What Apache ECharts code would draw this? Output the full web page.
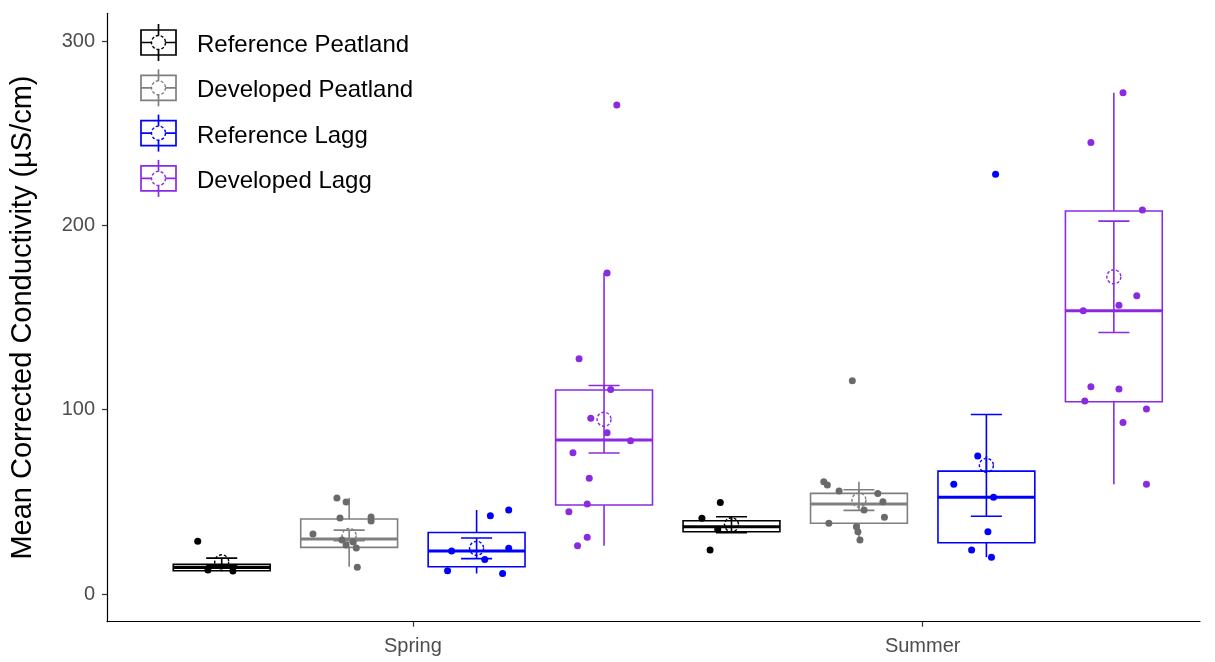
<!DOCTYPE html>
<html>
<head>
<meta charset="utf-8">
<title>Mean Corrected Conductivity</title>
<script src="https://cdn.jsdelivr.net/npm/echarts@6/dist/echarts.min.js"></script>
<style>
  html, body { margin: 0; padding: 0; background: #ffffff; }
  #chart { width: 1215px; height: 662px; }
</style>
</head>
<body>
<div id="chart"></div>
<script>
// ---- data -------------------------------------------------------------
const seasons = ['Spring', 'Summer'];
const groups = ['Reference Peatland', 'Developed Peatland', 'Reference Lagg', 'Developed Lagg'];
const yTicks = [0, 100, 200, 300];

// Box statistics per season: [lower whisker, Q1, median, Q3, upper whisker]
const boxRefPeatland = [[12.3, 12.6, 14.4, 16.1, 16.5], [33.5, 33.8, 36.5, 39.8, 41.1]];
const boxDevPeatland = [[14.8, 25.3, 29.8, 40.7, 52.1], [29.3, 38.4, 48.8, 54.6, 60.9]];
const boxRefLagg     = [[11.2, 14.8, 23.3, 33.4, 45.6], [19.9, 27.8, 52.5, 66.7, 74.9]];
const boxDevLagg     = [[26.2, 48.3, 83.5, 110.7, 174.1], [59.5, 104.3, 153.7, 207.8, 271.9]];

// Group means and standard errors per season
const meanRefPeatland = [17.5, 37.6];
const seRefPeatland   = [2.0, 4.3];
const meanDevPeatland = [31.8, 51.0];
const seDevPeatland   = [2.9, 5.6];
const meanRefLagg     = [24.8, 69.8];
const seRefLagg       = [5.6, 27.6];
const meanDevLagg     = [94.8, 172.1];
const seDevLagg       = [18.3, 30.2];

// Site observations: [jitter (share of a category), conductivity]
const obsRefPeatlandSpring = [[-0.047, 28.7], [-0.027, 13.0], [0.022, 12.5]];
const obsRefPeatlandSummer = [[-0.022, 49.7], [-0.042, 23.9], [-0.058, 41.1], [-0.027, 35.1]];
const obsDevPeatlandSpring = [[-0.024, 52.1], [-0.006, 49.9], [-0.018, 41.2], [0.043, 41.8], [0.043, 39.6],
  [-0.071, 32.6], [-0.014, 29.3], [0.008, 28.2], [-0.006, 26.6], [0.014, 25.0], [0.016, 14.6]];
const obsDevPeatlandSummer = [[-0.013, 115.7], [-0.069, 60.9], [-0.062, 59.1], [-0.039, 55.9], [0.037, 54.6],
  [0.047, 50.1], [0.010, 45.6], [0.050, 41.6], [-0.059, 38.4], [-0.005, 36.5], [-0.002, 33.8], [0.002, 29.3]];
const obsRefLaggSpring = [[0.027, 42.5], [0.063, 45.6], [-0.049, 23.3], [0.063, 24.8], [0.016, 18.8],
  [-0.057, 12.7], [0.051, 11.2]];
const obsRefLaggSummer = [[0.018, 227.7], [-0.017, 74.9], [-0.064, 59.5], [0.014, 52.5], [0.003, 33.8],
  [-0.029, 23.9], [0.010, 19.9]];
const obsDevLaggSpring = [[0.025, 265.3], [0.006, 174.1], [-0.049, 127.6], [0.013, 111.0], [-0.026, 95.3],
  [0.006, 87.5], [0.052, 83.2], [-0.061, 76.7], [-0.029, 62.8], [-0.033, 48.8], [-0.069, 44.7],
  [-0.033, 30.8], [-0.052, 26.2]];
const obsDevLaggSummer = [[0.018, 271.9], [-0.045, 244.9], [0.056, 208.3], [0.045, 161.8], [0.010, 156.6],
  [-0.060, 153.7], [-0.045, 112.5], [0.010, 111.2], [-0.057, 104.7], [0.064, 100.4], [0.018, 93.1],
  [0.064, 59.5]];

// ---- styling ----------------------------------------------------------
const lineColors  = ['#000000', '#7f7f7f', '#0000ff', '#8a2be2'];
const pointColors = ['#000000', '#6a6a6a', '#0000ff', '#8a2be2'];
const FONT = '"Liberation Sans", Arial, sans-serif';
const DODGE = [-0.375, -0.125, 0.125, 0.375];  // group offsets inside a season
const BOX_W = 0.19;                            // box width, in category units
const CAP_W = 0.061;                           // error-bar cap width
const MEAN_R = 7;                              // mean marker radius, px
const CIRCLE_DASH = [3, 2];

const boxes = [boxRefPeatland, boxDevPeatland, boxRefLagg, boxDevLagg];
const means = [meanRefPeatland, meanDevPeatland, meanRefLagg, meanDevLagg];
const ses   = [seRefPeatland, seDevPeatland, seRefLagg, seDevLagg];
const obs   = [
  [obsRefPeatlandSpring, obsRefPeatlandSummer],
  [obsDevPeatlandSpring, obsDevPeatlandSummer],
  [obsRefLaggSpring, obsRefLaggSummer],
  [obsDevLaggSpring, obsDevLaggSummer]
];

// season s sits at x = s + 1 on the value axis
function boxRows(g) {
  return seasons.map((_, s) => [s + 1 + DODGE[g]].concat(boxes[g][s], [means[g][s], ses[g][s]]));
}
function pointRows(g) {
  const rows = [];
  seasons.forEach((_, s) => {
    obs[g][s].forEach(([j, v]) => rows.push([s + 1 + DODGE[g] + j, v]));
  });
  return rows;
}

function makeBoxRenderer(color) {
  return function (params, api) {
    const x = api.value(0);
    const lo = api.value(1), q1 = api.value(2), med = api.value(3), q3 = api.value(4), hi = api.value(5);
    const mean = api.value(6), se = api.value(7);
    const px = api.coord([x, 0])[0];
    const y = (v) => api.coord([x, v])[1];
    const halfBox = api.size([BOX_W, 0])[0] / 2;
    const halfCap = api.size([CAP_W, 0])[0] / 2;
    const thin = { stroke: color, lineWidth: 1.6, fill: null };
    return {
      type: 'group',
      children: [
        { type: 'line', shape: { x1: px, y1: y(hi), x2: px, y2: y(q3) }, style: thin },
        { type: 'line', shape: { x1: px, y1: y(q1), x2: px, y2: y(lo) }, style: thin },
        { type: 'rect', shape: { x: px - halfBox, y: y(q3), width: 2 * halfBox, height: y(q1) - y(q3) },
          style: { stroke: color, lineWidth: 1.6, fill: '#ffffff' } },
        { type: 'line', shape: { x1: px - halfBox, y1: y(med), x2: px + halfBox, y2: y(med) },
          style: { stroke: color, lineWidth: 3 } },
        { type: 'line', shape: { x1: px, y1: y(mean + se), x2: px, y2: y(mean - se) }, style: thin },
        { type: 'line', shape: { x1: px - halfCap, y1: y(mean + se), x2: px + halfCap, y2: y(mean + se) }, style: thin },
        { type: 'line', shape: { x1: px - halfCap, y1: y(mean - se), x2: px + halfCap, y2: y(mean - se) }, style: thin },
        { type: 'circle', shape: { cx: px, cy: y(mean), r: MEAN_R },
          style: { stroke: color, lineWidth: 1.4, fill: null, lineDash: CIRCLE_DASH } }
      ]
    };
  };
}

// ---- legend keys (box glyph with mean marker) ---------------------------
function legendGraphics() {
  const items = [];
  groups.forEach((name, g) => {
    const cy = 42.5 + 45.3 * g;
    const cx = 158.5;
    const c = lineColors[g];
    const st = { stroke: c, lineWidth: 1.7, fill: null };
    items.push(
      { type: 'line', shape: { x1: cx, y1: cy - 18.5, x2: cx, y2: cy + 18.5 }, style: st },
      { type: 'rect', shape: { x: cx - 17.5, y: cy - 12.5, width: 35, height: 25 },
        style: { stroke: c, lineWidth: 1.7, fill: '#ffffff' } },
      { type: 'line', shape: { x1: cx, y1: cy - 12.5, x2: cx, y2: cy + 12.5 }, style: st },
      { type: 'line', shape: { x1: cx - 17.5, y1: cy, x2: cx + 17.5, y2: cy }, style: st },
      { type: 'circle', shape: { cx: cx, cy: cy, r: MEAN_R },
        style: { stroke: c, lineWidth: 1.4, fill: '#ffffff', lineDash: CIRCLE_DASH } },
      { type: 'text', x: 197, y: cy + 3,
        style: { text: name, fill: '#000000', font: '24px ' + FONT, textVerticalAlign: 'middle' } }
    );
  });
  return items;
}

// ---- chart ------------------------------------------------------------
const chart = echarts.init(document.getElementById('chart'), null, { renderer: 'canvas' });

const series = [];
groups.forEach((name, g) => {
  series.push({
    name: name,
    type: 'custom',
    renderItem: makeBoxRenderer(lineColors[g]),
    data: boxRows(g),
    encode: { x: 0, y: [1, 2, 3, 4, 5] },
    clip: true,
    z: 2
  });
});
groups.forEach((name, g) => {
  series.push({
    name: name + ' sites',
    type: 'scatter',
    data: pointRows(g),
    symbol: 'circle',
    symbolSize: 7,
    itemStyle: { color: pointColors[g], opacity: 1 },
    clip: true,
    z: 3
  });
});

chart.setOption({
  animation: false,
  backgroundColor: '#ffffff',
  grid: { left: 107, right: 15, top: 13.35, bottom: 40.3, containLabel: false, outerBoundsMode: 'none' },
  xAxis: {
    type: 'value',
    min: 0.4,
    max: 2.544,
    splitLine: { show: false },
    axisLine: { show: true, onZero: false, lineStyle: { color: '#000000', width: 1.2 } },
    axisTick: { show: true, customValues: [1, 2], length: 5, lineStyle: { color: '#333333', width: 1.2 } },
    axisLabel: {
      customValues: [1, 2],
      formatter: (v) => seasons[Math.round(v) - 1] || '',
      color: '#4d4d4d',
      fontFamily: FONT,
      fontSize: 20,
      margin: 15
    }
  },
  yAxis: {
    type: 'value',
    min: -15,
    max: 315,
    name: 'Mean Corrected Conductivity (µS/cm)',
    nameLocation: 'middle',
    nameGap: 70,
    nameTextStyle: { color: '#000000', fontFamily: FONT, fontSize: 29 },
    splitLine: { show: false },
    axisLine: { show: true, onZero: false, lineStyle: { color: '#000000', width: 1.2 } },
    axisTick: { show: true, customValues: yTicks, length: 5, lineStyle: { color: '#333333', width: 1.2 } },
    axisLabel: {
      customValues: yTicks,
      color: '#4d4d4d',
      fontFamily: FONT,
      fontSize: 20,
      margin: 12
    }
  },
  graphic: legendGraphics(),
  series: series
});
</script>
</body>
</html>
